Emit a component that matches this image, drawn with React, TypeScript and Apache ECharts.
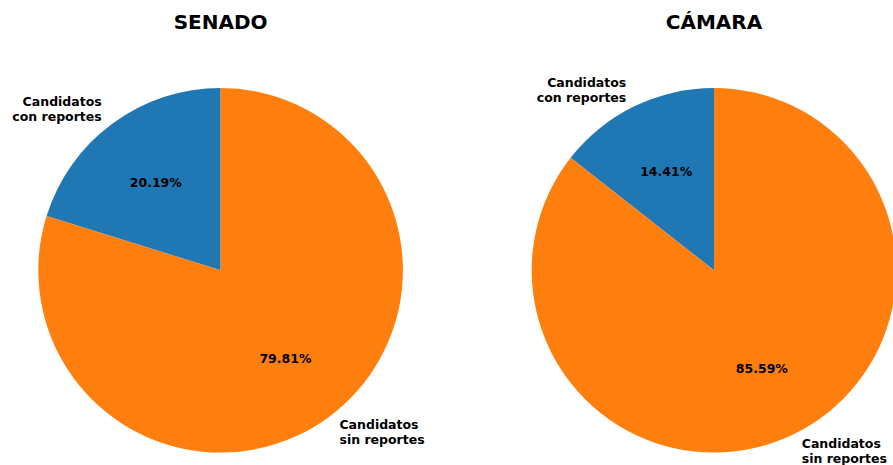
import React, { useEffect, useRef } from "react";
import * as echarts from "echarts";

const categories = ["Candidatos con reportes", "Candidatos sin reportes"];
const categoryLabels = ["Candidatos\ncon reportes", "Candidatos\nsin reportes"];
const senadoValues = [20.19, 79.81];
const camaraValues = [14.41, 85.59];
const chartTitles = ["SENADO", "CÁMARA"];
const colors = ["#1f77b4", "#ff7f0e"];

const FONT = "DejaVu Sans";
const R = 182.3;
const CY = 270.3;
const centersX = [220.6, 714];

function buildSeries(values: number[], cx: number) {
  const data = categories.map((name, i) => ({ name, value: values[i] }));
  return [
    {
      type: "pie",
      center: [cx, CY],
      radius: [0, R],
      startAngle: 90,
      clockwise: false,
      avoidLabelOverlap: false,
      silent: true,
      data,
      itemStyle: { borderWidth: 0 },
      label: {
        show: true,
        position: "outside",
        formatter: (p: any) => categoryLabels[p.dataIndex],
        fontFamily: FONT,
        fontWeight: "bold",
        fontSize: 12.5,
        lineHeight: 15,
        color: "#000",
        distanceToLabelLine: 0,
        overflow: "none",
      },
      labelLine: { show: false, length: R * 0.1, length2: 0 },
      emphasis: { disabled: true },
    },
    {
      type: "pie",
      center: [cx, CY],
      radius: [0, 2 * (R * 0.6 - 3)],
      startAngle: 90,
      clockwise: false,
      avoidLabelOverlap: false,
      silent: true,
      data,
      itemStyle: { color: "rgba(0,0,0,0)", borderWidth: 0 },
      label: {
        show: true,
        position: "inside",
        formatter: (p: any) => p.value.toFixed(2) + "%",
        fontFamily: FONT,
        fontWeight: "bold",
        fontSize: 12.5,
        color: "#000",
        overflow: "none",
      },
      labelLine: { show: false },
      emphasis: { disabled: true },
    },
  ];
}

export default function App() {
  const ref = useRef<HTMLDivElement>(null);
  useEffect(() => {
    if (!ref.current) return;
    const chart = echarts.init(ref.current, null, { renderer: "svg" });
    chart.setOption({
      animation: false,
      backgroundColor: "#ffffff",
      color: colors,
      title: chartTitles.map((t, i) => ({
        text: t,
        left: centersX[i],
        top: 11.5,
        padding: 0,
        textAlign: "center",
        textStyle: {
          fontFamily: FONT,
          fontWeight: "bold",
          fontSize: 20,
          lineHeight: 20,
          color: "#000",
        },
      })),
      series: [
        ...buildSeries(senadoValues, centersX[0]),
        ...buildSeries(camaraValues, centersX[1]),
      ],
    });
    return () => chart.dispose();
  }, []);
  return (
    <div
      ref={ref}
      style={{ position: "absolute", left: 0, top: 0, width: 893, height: 465 }}
    />
  );
}
